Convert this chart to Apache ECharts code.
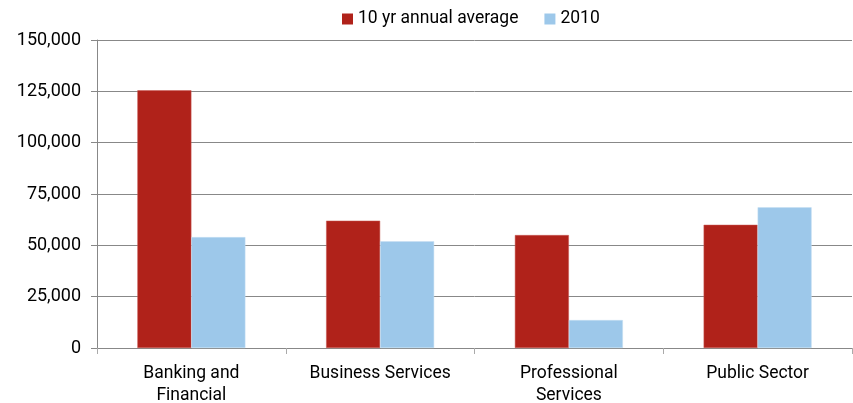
<!DOCTYPE html>
<html>
<head>
<meta charset="utf-8">
<script src="https://cdn.jsdelivr.net/npm/echarts@6/dist/echarts.min.js"></script>
<style>html,body{margin:0;padding:0;background:#fff;}#c{width:853px;height:403px;}</style>
</head>
<body>
<div id="c"></div>
<script>
const categories = ['Banking and\nFinancial', 'Business Services', 'Professional\nServices', 'Public Sector'];
const seriesNames = ['10 yr annual average', '2010'];
const avgValues = [125500, 62000, 55000, 60000];
const values2010 = [54000, 52000, 13600, 68500];
const yTicks = { min: 0, max: 150000, interval: 25000 };

const chart = echarts.init(document.getElementById('c'));
const font = 'Roboto';
chart.setOption({
  animation: false,
  legend: {
    top: 5, left: 337, icon: 'rect',
    itemWidth: 11, itemHeight: 11, itemGap: 26,
    itemStyle: { borderWidth: 0 },
    textStyle: { fontFamily: font, fontSize: 17.5, color: '#000' },
    data: seriesNames
  },
  grid: { left: 97, right: 1, top: 40, bottom: 55, containLabel: false, outerBoundsMode: 'none' },
  xAxis: {
    type: 'category', data: categories,
    axisLine: { lineStyle: { color: '#888', width: 1 } },
    axisTick: { show: true, length: 6, lineStyle: { color: '#aaa' } },
    axisLabel: { fontFamily: font, fontSize: 17.5, color: '#000', margin: 15, lineHeight: 22, interval: 0 }
  },
  yAxis: {
    type: 'value', min: yTicks.min, max: yTicks.max, interval: yTicks.interval,
    axisLine: { show: true, lineStyle: { color: '#888' } },
    axisTick: { show: true, length: 6, lineStyle: { color: '#888' } },
    splitLine: { lineStyle: { color: '#888' } },
    axisLabel: {
      fontFamily: font, fontSize: 18, color: '#000', margin: 16,
      formatter: v => v.toLocaleString('en-US')
    }
  },
  series: [
    { name: seriesNames[0], type: 'bar', data: avgValues, barWidth: 54, barGap: '0%',
      itemStyle: { color: '#B0221A', borderColor: '#c85a55', borderWidth: 0.5 } },
    { name: seriesNames[1], type: 'bar', data: values2010, barWidth: 54,
      itemStyle: { color: '#9DC8EA', borderColor: '#c4dff3', borderWidth: 0.5 } }
  ]
});
</script>
</body>
</html>
